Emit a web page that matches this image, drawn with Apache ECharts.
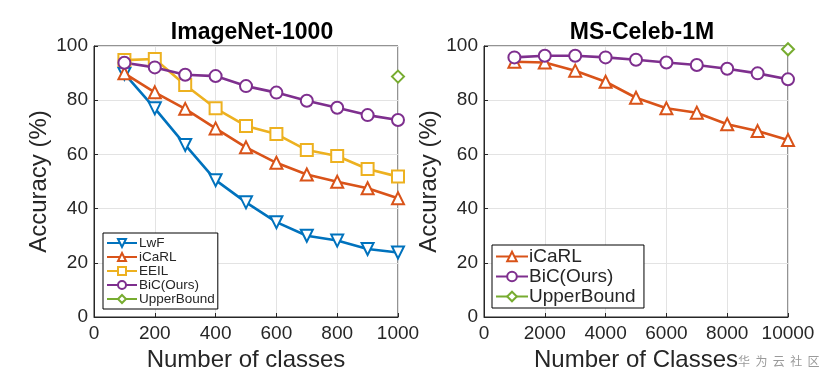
<!DOCTYPE html>
<html><head><meta charset="utf-8">
<script src="https://cdn.jsdelivr.net/npm/echarts@6/dist/echarts.min.js"></script>
<style>html,body{margin:0;padding:0;background:#fff}#c{width:832px;height:380px}</style>
</head><body><div id="c"></div>
<script>
// ImageNet-1000
const inClasses = [100,200,300,400,500,600,700,800,900,1000];
const inLwF   = [89.8,77.0,63.5,50.5,42.3,35.0,30.0,28.2,25.1,23.8];
const inICaRL = [89.9,82.9,76.8,69.6,62.6,56.9,52.6,49.9,47.5,43.8];
const inEEIL  = [94.8,95.2,85.6,77.0,70.5,67.5,61.6,59.4,54.6,51.8];
const inBiC   = [93.8,92.1,89.4,88.9,85.2,82.8,79.8,77.2,74.5,72.7];
const inUpper = [[1000,88.7]];
// MS-Celeb-1M
const msClasses = [1000,2000,3000,4000,5000,6000,7000,8000,9000,10000];
const msICaRL = [94.2,93.9,90.9,86.8,80.9,77.0,75.4,71.1,68.6,65.3];
const msBiC   = [95.8,96.4,96.4,95.8,94.9,93.9,93.0,91.6,89.9,87.7];
const msUpper = [[10000,98.8]];

const yTicks = [0,20,40,60,80,100];

const C = {lwf:'#0072BD', icarl:'#D95319', eeil:'#EDB120', bic:'#7E2F8E', up:'#77AC30'};
const font = 'Liberation Sans, Arial, Helvetica, sans-serif';
const txt = '#262626';

function pairs(xs, ys){ return xs.map((x,i)=>[x, ys[i]]); }
function ser(name, data, color, symbol, gi, rot){
  return {name, type:'line', xAxisIndex:gi, yAxisIndex:gi, data, symbol, symbolSize:12,
    symbolRotate: rot||0, showSymbol:true,
    lineStyle:{color, width:2.6}, itemStyle:{color, borderColor:color, borderWidth:2.2},
    animation:false};
}
function xAxis(gi, max, interval, name){
  return {type:'value', gridIndex:gi, min:0, max, interval, name, nameLocation:'middle', nameGap:30,
    nameTextStyle:{fontFamily:font, fontSize:24, color:txt, verticalAlign:'top'},
    axisLine:{show:true, lineStyle:{color:txt, width:1}}, axisTick:{show:true, inside:true, length:4, lineStyle:{color:txt}},
    axisLabel:{fontFamily:font, fontSize:19, color:txt, margin:7, showMinLabel:true, showMaxLabel:true,
      formatter: v => String(v)},
    splitLine:{show:true, lineStyle:{color:'#e3e3e3', width:1}}};
}
function yAxis(gi){
  return {type:'value', gridIndex:gi, min:yTicks[0], max:yTicks[yTicks.length-1], interval:20,
    name:'Accuracy (%)', nameLocation:'middle', nameGap:43, nameRotate:90,
    nameTextStyle:{fontFamily:font, fontSize:24, color:txt},
    axisLine:{show:true, lineStyle:{color:txt, width:1}}, axisTick:{show:true, inside:true, length:4, lineStyle:{color:txt}},
    axisLabel:{fontFamily:font, fontSize:19, color:txt, margin:6},
    splitLine:{show:true, lineStyle:{color:'#e3e3e3', width:1}}};
}

const chart = echarts.init(document.getElementById('c'), null, {renderer:'canvas'});
chart.setOption({
  animation:false,
  backgroundColor:'#fff',
  title:[
    {text:'ImageNet-1000', left:247, top:16, textAlign:'center', textStyle:{fontFamily:font, fontSize:23, fontWeight:'bold', color:'#000'}},
    {text:'MS-Celeb-1M', left:637, top:16, textAlign:'center', textStyle:{fontFamily:font, fontSize:23, fontWeight:'bold', color:'#000'}},
    {text:'华  为  云  社  区', left:733, top:350, textStyle:{fontFamily:'Noto Sans CJK SC', fontSize:12, fontWeight:'normal', color:'#9a9a9a'}}
  ],
  grid:[
    {left:94, right:434, top:46, bottom:63, show:true, borderColor:txt, borderWidth:1, backgroundColor:'transparent'},
    {left:484, right:44, top:46, bottom:63, show:true, borderColor:txt, borderWidth:1, backgroundColor:'transparent'}
  ],
  xAxis:[xAxis(0,1000,200,'Number of classes'), xAxis(1,10000,2000,'Number of Classes')],
  yAxis:[yAxis(0), yAxis(1)],
  legend:[
    {data:['LwF','iCaRL','EEIL','BiC(Ours)','UpperBound'], orient:'vertical', left:103, top:233,
     itemWidth:30, itemHeight:10, itemGap:0, padding:[3,3,3,3], borderColor:'#000', borderWidth:1,
     backgroundColor:'#fff', textStyle:{fontFamily:font, fontSize:13.5, color:txt, padding:[0,0,0,-3], lineHeight:14}},
    {data:['iCaRL ','BiC(Ours) ','UpperBound '], orient:'vertical', left:492, top:245,
     itemWidth:32, itemHeight:12, itemGap:1, padding:[2,3,2,3], borderColor:'#000', borderWidth:1,
     backgroundColor:'#fff', textStyle:{fontFamily:font, fontSize:19, color:txt, padding:[0,0,0,-4], lineHeight:19}}
  ],
  series:[
    ser('LwF', pairs(inClasses, inLwF), C.lwf, 'emptyTriangle', 0, 180),
    ser('iCaRL', pairs(inClasses, inICaRL), C.icarl, 'emptyTriangle', 0),
    ser('EEIL', pairs(inClasses, inEEIL), C.eeil, 'emptyRect', 0),
    ser('BiC(Ours)', pairs(inClasses, inBiC), C.bic, 'emptyCircle', 0),
    ser('UpperBound', inUpper, C.up, 'emptyDiamond', 0),
    ser('iCaRL ', pairs(msClasses, msICaRL), C.icarl, 'emptyTriangle', 1),
    ser('BiC(Ours) ', pairs(msClasses, msBiC), C.bic, 'emptyCircle', 1),
    ser('UpperBound ', msUpper, C.up, 'emptyDiamond', 1)
  ]
});
</script></body></html>
